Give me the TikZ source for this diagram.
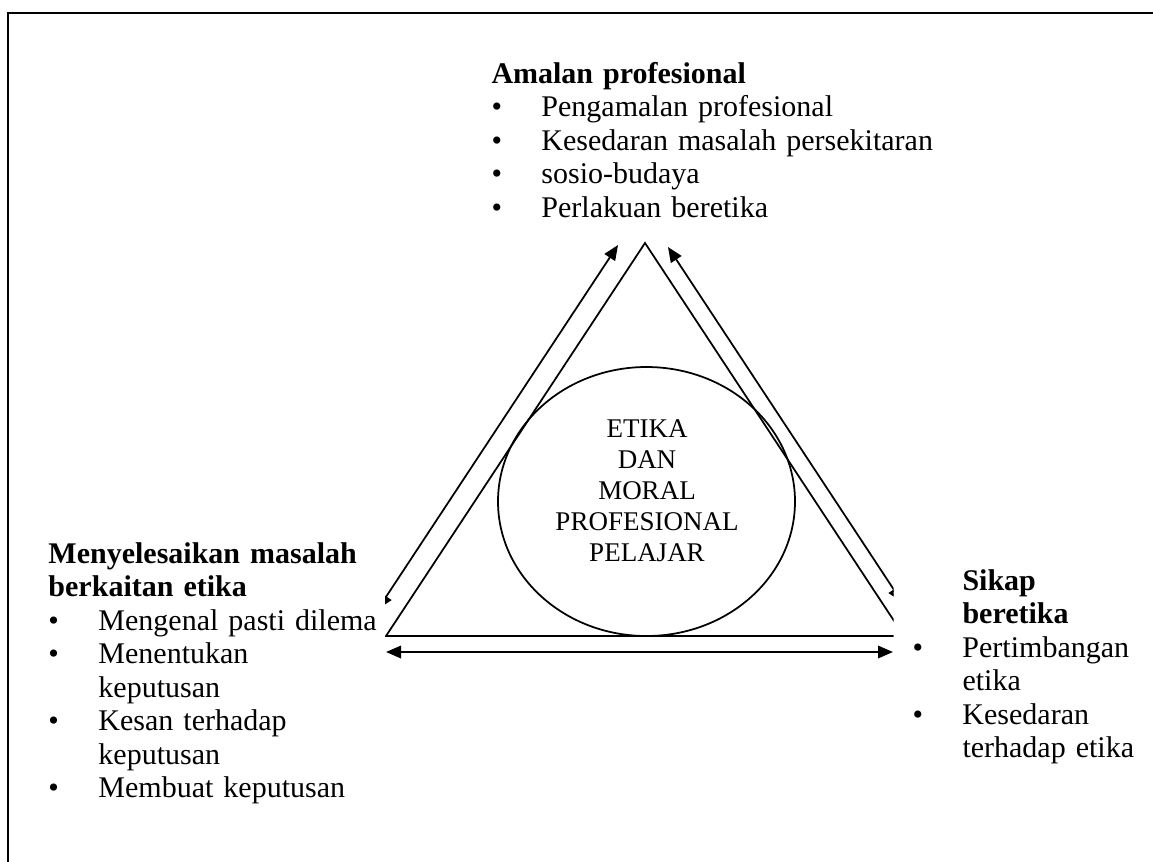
\documentclass[tikz,border=0pt]{standalone}
\usepackage{fontspec}
\setmainfont{Liberation Serif}
\usetikzlibrary{arrows.meta,shapes.geometric}
\newcommand{\pitem}{\makebox[20pt][l]{\textbullet}}
\newcommand{\pindent}{\hspace*{20pt}}
\begin{document}
\begin{tikzpicture}[x=0.4pt,y=-0.4pt,
		box/.style={anchor=base west,inner sep=0pt,text width=190pt,align=left,font=\fontsize{12}{13.4}\selectfont},
		link/.style={line width=0.7pt,{Triangle[length=6pt,width=5pt]}-{Triangle[length=6pt,width=5pt]}}]
	\useasboundingbox (0,0) rectangle (1153,861);
	\draw[line width=0.8pt] (8,13) rectangle (1180,890);

	% corners of the triangle and ends of the arrows
	\coordinate (apex) at (645,243);
	\coordinate (left) at (386,636);
	\coordinate (right) at (904,636);
	\coordinate (lup) at (618,245);
	\coordinate (ldown) at (378,609);
	\coordinate (rup) at (668,247);
	\coordinate (rdown) at (902,602);
	\coordinate (bleft) at (386,652);
	\coordinate (bright) at (893,652);

	\begin{scope}
		\clip (385,0) rectangle (893.5,861);
		\draw[line width=0.7pt] (left) -- (apex) -- (right) -- cycle;
		\draw[link] (ldown) -- (lup);
		\draw[link] (rdown) -- (rup);
		\draw[link] (bleft) -- (bright);
	\end{scope}

	% centre of the diagram
	\node[draw,ellipse,line width=0.7pt,minimum width=118.8pt,minimum height=107.6pt,inner sep=0pt] (core) at (646.5,501.5) {};
	\node[align=center,inner sep=0pt,font=\fontsize{10.8}{12.4}\selectfont] (coretext) at (647,491) {ETIKA\\DAN\\MORAL\\PROFESIONAL\\PELAJAR};

	% the three corners
	\node[box] (amalan) at (491,83) {\textbf{Amalan profesional}\\
		\pitem Pengamalan profesional\\
		\pitem Kesedaran masalah persekitaran\\
		\pitem sosio-budaya\\
		\pitem Perlakuan beretika};
	\node[box,text width=150pt] (masalah) at (48,563) {\textbf{Menyelesaikan masalah}\\
		\textbf{berkaitan etika}\\
		\pitem Mengenal pasti dilema\\
		\pitem Menentukan\\
		\pindent keputusan\\
		\pitem Kesan terhadap\\
		\pindent keputusan\\
		\pitem Membuat keputusan};
	\node[box,text width=100pt] (sikap) at (912,590) {\pindent\textbf{Sikap}\\
		\pindent\textbf{beretika}\\
		\pitem Pertimbangan\\
		\pindent etika\\
		\pitem Kesedaran\\
		\pindent terhadap etika};
\end{tikzpicture}
\end{document}
